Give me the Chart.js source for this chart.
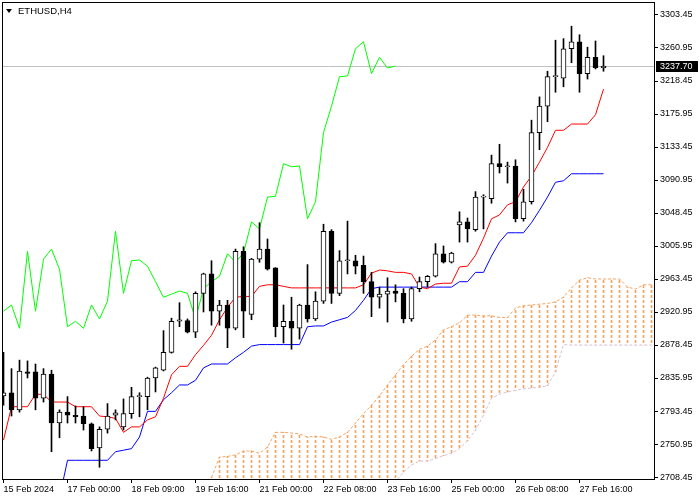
<!DOCTYPE html>
<html>
<head>
<meta charset="utf-8">
<script src="https://cdn.jsdelivr.net/npm/chart.js@4.4.1/dist/chart.umd.min.js"></script>
<style>
  body { margin: 0; background: #fff; }
  canvas { display: block; }
</style>
</head>
<body>
<canvas id="chart" width="700" height="500"></canvas>
<script>
const symbol = 'ETHUSD,H4';

// H4 candles, bar 0 = 15 Feb 2024
const opens = [2813,2817,2795,2844,2844,2810,2841,2778,2792,2788, 2787,2777,2746,2770,2788,2773,2790,2812,2812,2836,
  2846,2869,2909,2910,2895,2945,2970,2922,2930,2900, 2999,2918,2989,3002,2978,2902,2909,2900,2930,2912,
  2935,3025,2945,2987,2987,2981,2960,2940,2944,2948, 2945,2912,2951,2960,2967,2996,2985,3033,3037,3027,
  3069,3067,3112,3108,3109,3041,3063,3152,3186,3224, 3222,3260,3269,3228,3249,3235.2];
const highs = [2869,2848,2859,2858,2854,2848,2846,2795,2812,2800, 2799,2778,2773,2803,2795,2809,2824,2817,2837,2850,
  2897,2913,2933,2912,2947,2971,2987,2936,2936,3002, 3005,2990,3036,3015,2978,2930,2940,2931,2982,2947,
  3034,3027,3000,3038,2994,2993,2972,2953,2965,2956, 2951,2953,2966,2968,3009,3006,2998,3050,3042,3076,
  3072,3123,3137,3114,3117,3079,3168,3198,3231,3271, 3273,3289,3278,3262,3270,3251];
const lows = [2801,2787,2792,2836,2795,2805,2741,2759,2778,2778, 2769,2742,2721,2765,2782,2769,2784,2786,2795,2818,
  2845,2868,2902,2894,2888,2921,2904,2904,2875,2898, 2888,2911,2985,2975,2889,2881,2873,2886,2908,2910,
  2932,2932,2942,2970,2970,2945,2915,2926,2908,2934, 2907,2909,2947,2953,2966,2984,2984,3011,3011,3025,
  3028,3061,3100,3087,3037,3038,3060,3130,3166,3204, 3211,3242,3204,3221,3234,3231];
const closes = [2817,2795,2845,2842,2810,2841,2778,2792,2788,2786, 2777,2745,2770,2787,2791,2790,2812,2813,2836,2849,
  2869,2909,2911,2895,2945,2970,2922,2930,2900,2999, 2922,2989,3002,2976,2902,2909,2900,2930,2912,2935,
  3025,2945,2987,2988,2980,2960,2940,2944,2948,2945, 2912,2951,2960,2967,2996,2985,2997,3037,3028,3069,
  3070,3112,3108,3109,3041,3063,3152,3186,3224,3225, 3260,3269,3228,3249,3235.2,3237.7];

// Ichimoku lines
const tenkan = [2756,2799,2799,2799,2815,2815,2805,2805,2805,2799, 2799,2799,2787,2786,2784,2766,2773,2773,2782,2786,
  2810,2840,2851,2851,2866,2878,2891,2911,2927,2940, 2941,2941,2954,2956,2956,2954,2952,2952,2952,2952,
  2952,2952,2952,2952,2952,2956,2971,2975,2974,2972, 2972,2970,2953,2951,2957,2958,2958,2979,2980,2994,
  3016,3041,3046,3059,3063,3082,3096,3114,3133,3155, 3155,3163,3163,3163,3175,3208];
const kijun = [2680,2680,2680,2680,2680,2680,2680,2682,2730,2730, 2730,2730,2730,2730,2741,2743,2745,2760,2793,2793,
  2808,2817,2827,2827,2833,2849,2854,2854,2854,2862, 2869,2877,2879,2879,2879,2879,2879,2879,2902,2903,
  2903,2908,2911,2914,2923,2936,2951,2953,2953,2953, 2953,2953,2953,2953,2953,2953,2953,2960,2960,2972,
  2972,2993,3011,3023,3023,3023,3036,3052,3069,3088, 3090,3099,3099,3099,3099,3099];
const chikouShift = 26;
const spanA = [null,null,null,null,null,null,null,null,null,null, null,null,null,null,null,null,null,null,null,null,
  null,null,null,null,2675,2690,2708,2734,2735,2737, 2742,2742,2739,2747,2766,2766,2765,2764,2760,2761,
  2760,2757,2760,2766,2778,2790,2801,2813,2827,2840, 2853,2864,2873,2877,2885,2898,2902,2907,2917,2917,
  2916,2916,2914,2914,2926,2929,2930,2931,2932,2934, 2940,2952,2962,2965,2963.5,2963.5,2963.5,2963.5,2953,2950.6,
  2956,2956];
const spanB = [null,null,null,null,null,null,null,null,null,null, null,null,null,null,null,null,null,null,null,null,
  null,null,null,null,null,null,2650,2650,2650,2650, 2650,2650,2650,2655,2655,2655,2655,2655,2660,2660,
  2660,2660,2665,2665,2670,2670,2675,2680,2690,2702, 2715,2724,2729,2729,2732,2736,2739,2745,2755,2769,
  2788,2810,2815,2818,2820,2822,2823,2824,2826,2844, 2879,2878.45,2878.45,2878.45,2878.45,2878.45,2878.45,2878.45,2878.45,2878.45,
  2878.45,2878.45];

const timeTickBars = [0, 8, 16, 24, 32, 40, 48, 56, 64, 72];
const timeLabels = ['15 Feb 2024','17 Feb 00:00','18 Feb 09:00','19 Feb 16:00','21 Feb 00:00',
  '22 Feb 08:00','23 Feb 16:00','25 Feb 00:00','26 Feb 08:00','27 Feb 16:00'];
const priceTicks = [2708.45,2750.95,2793.45,2835.95,2878.45,2920.95,2963.45,3005.95,
  3048.45,3090.95,3133.45,3175.95,3218.45,3260.95,3303.45];
const lastPrice = closes[closes.length - 1];

const pts = arr => arr.map((v, i) => ({ x: i, y: v }));

// dotted vertical hatch for the cloud
const hatch = color => {
  const c = document.createElement('canvas');
  c.width = 1; c.height = 5;
  const g = c.getContext('2d');
  g.fillStyle = color;
  g.fillRect(0, 0, 1, 3);
  return g.createPattern(c, 'repeat');
};
const ctx = document.getElementById('chart');
const hatchUp = hatch('#F4A460');
const hatchDown = hatch('#D8BFD8');

const cloud = [];
spanA.forEach((a, i) => {
  if (a != null && spanB[i] != null) cloud.push({ x: i, y: [spanB[i], a] });
});

const noPad = s => { s.paddingTop = 0; s.paddingBottom = 0; s.paddingLeft = 0; s.paddingRight = 0; };

const overlay = {
  id: 'overlay',
  beforeDatasetsDraw(chart) {
    const { ctx: c, chartArea: a, scales } = chart;
    const y = Math.round(scales.y.getPixelForValue(lastPrice)) + 0.5;
    c.save();
    c.strokeStyle = '#C0C0C0';
    c.lineWidth = 1;
    c.beginPath();
    c.moveTo(a.left, y);
    c.lineTo(a.right, y);
    c.stroke();
    c.restore();
  },
  afterDraw(chart) {
    const { ctx: c, chartArea: a, scales } = chart;
    c.save();
    c.strokeStyle = '#000';
    c.lineWidth = 1;
    c.strokeRect(a.left - 0.5, a.top - 0.5, a.right - a.left + 1, a.bottom - a.top + 1);
    // last price tag
    const y = Math.round(scales.y.getPixelForValue(lastPrice));
    c.fillStyle = '#000';
    c.fillRect(a.right + 2, y - 5, 42, 11);
    c.fillStyle = '#fff';
    c.font = '9px "Liberation Sans"';
    c.textBaseline = 'middle';
    c.fillText(lastPrice.toFixed(2), a.right + 6, y + 0.5);
    // title
    c.fillStyle = '#000';
    c.beginPath();
    c.moveTo(6, 9); c.lineTo(12, 9); c.lineTo(9, 13); c.closePath();
    c.fill();
    c.font = '9.5px "Liberation Sans"';
    c.fillText(symbol, 18, 11.5);
    c.restore();
  }
};

Chart.defaults.font.family = '"Liberation Sans", Arial, sans-serif';
Chart.defaults.font.size = 9;
Chart.defaults.color = '#000';

new Chart(ctx, {
  type: 'bar',
  data: {
    datasets: [
      { type: 'bar', data: highs.map((h, i) => ({ x: i, y: [lows[i], h] })),
        backgroundColor: '#000', barThickness: 1, grouped: false, order: 1 },
      { type: 'bar', data: opens.map((o, i) => ({ x: i, y: [o, closes[i]] })),
        backgroundColor: c => closes[c.dataIndex] >= opens[c.dataIndex] ? '#fff' : '#000',
        borderColor: '#000', borderWidth: 1, borderSkipped: false, minBarLength: 1,
        barThickness: 5, grouped: false, order: 0 },
      { type: 'line', data: pts(tenkan), borderColor: '#FF0000', borderWidth: 1, pointRadius: 0, order: 2 },
      { type: 'line', data: pts(kijun), borderColor: '#0000FF', borderWidth: 1, pointRadius: 0, order: 3 },
      { type: 'line', data: pts(closes.slice(chikouShift)), borderColor: '#00FF00', borderWidth: 1, pointRadius: 0, order: 4 },
      { type: 'line', data: pts(spanA), borderColor: '#F4A460', borderWidth: 1, borderDash: [3, 2], pointRadius: 0, order: 5 },
      { type: 'line', data: pts(spanB), borderColor: '#D8BFD8', borderWidth: 1, borderDash: [3, 2], pointRadius: 0, order: 6 },
      { type: 'bar', data: cloud, barThickness: 1, grouped: false, order: 7,
        backgroundColor: c => {
          const r = c.raw;
          return r && r.y[1] >= r.y[0] ? hatchUp : hatchDown;
        } }
    ]
  },
  options: {
    responsive: false,
    animation: false,
    layout: { padding: { left: 3, top: 3, right: 0, bottom: 0 } },
    plugins: { legend: { display: false }, tooltip: { enabled: false } },
    scales: {
      x: {
        type: 'linear', min: -0.0625, max: 81.3125, offset: false,
        afterBuildTicks: s => { s.ticks = timeTickBars.map(v => ({ value: v })); },
        afterFit: s => { s.height = 21; noPad(s); },
        ticks: { autoSkip: false, maxRotation: 0, align: 'start', padding: 1,
          callback: v => timeLabels[timeTickBars.indexOf(v)] },
        grid: { drawOnChartArea: false, offset: false, tickLength: 4, color: '#000' },
        border: { display: false }
      },
      y: {
        type: 'linear', position: 'right', min: 2705.9, max: 3318.9,
        afterBuildTicks: s => { s.ticks = priceTicks.map(v => ({ value: v })); },
        afterFit: s => { s.width = 46; noPad(s); },
        ticks: { padding: 2, callback: v => v.toFixed(2) },
        grid: { drawOnChartArea: false, tickLength: 4, color: '#000' },
        border: { display: false }
      }
    }
  },
  plugins: [overlay]
});
</script>
</body>
</html>
